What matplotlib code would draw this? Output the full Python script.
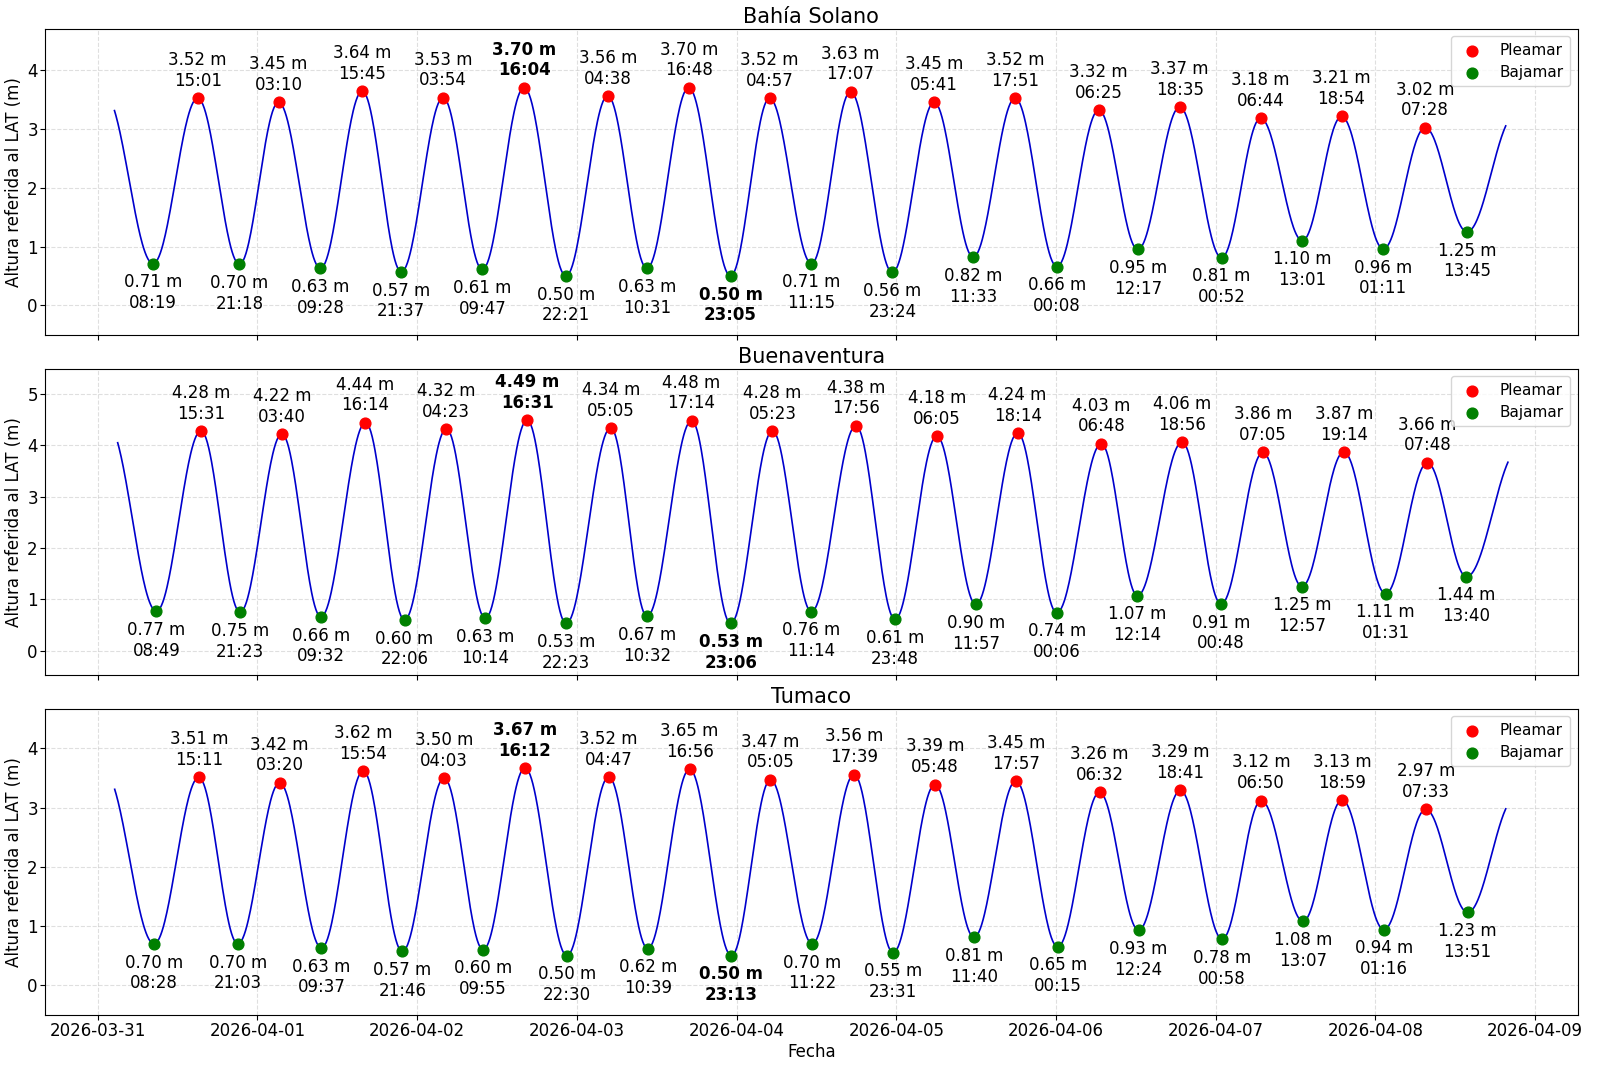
import numpy as np
import pandas as pd
import matplotlib
matplotlib.use("Agg")
import matplotlib.pyplot as plt
import matplotlib.dates as mdates

# Estaciones
estaciones = ["Bahía Solano", "Buenaventura", "Tumaco"]

# Pleamares y bajamares (fecha-hora, altura)
bs_plea_t = ["2026-03-31 15:01", "2026-04-01 03:10", "2026-04-01 15:45", "2026-04-02 03:54",
             "2026-04-02 16:04", "2026-04-03 04:38", "2026-04-03 16:48", "2026-04-04 04:57",
             "2026-04-04 17:07", "2026-04-05 05:41", "2026-04-05 17:51", "2026-04-06 06:25",
             "2026-04-06 18:35", "2026-04-07 06:44", "2026-04-07 18:54", "2026-04-08 07:28"]
bs_plea_h = [3.52, 3.45, 3.64, 3.53, 3.70, 3.56, 3.70, 3.52, 3.63, 3.45, 3.52, 3.32, 3.37, 3.18, 3.21, 3.02]
bs_baja_t = ["2026-03-31 08:19", "2026-03-31 21:18", "2026-04-01 09:28", "2026-04-01 21:37",
             "2026-04-02 09:47", "2026-04-02 22:21", "2026-04-03 10:31", "2026-04-03 23:05",
             "2026-04-04 11:15", "2026-04-04 23:24", "2026-04-05 11:33", "2026-04-06 00:08",
             "2026-04-06 12:17", "2026-04-07 00:52", "2026-04-07 13:01", "2026-04-08 01:11",
             "2026-04-08 13:45"]
bs_baja_h = [0.71, 0.70, 0.63, 0.57, 0.61, 0.50, 0.63, 0.50, 0.71, 0.56, 0.82, 0.66, 0.95, 0.81, 1.10, 0.96, 1.25]

bu_plea_t = ["2026-03-31 15:31", "2026-04-01 03:40", "2026-04-01 16:14", "2026-04-02 04:23",
             "2026-04-02 16:31", "2026-04-03 05:05", "2026-04-03 17:14", "2026-04-04 05:23",
             "2026-04-04 17:56", "2026-04-05 06:05", "2026-04-05 18:14", "2026-04-06 06:48",
             "2026-04-06 18:56", "2026-04-07 07:05", "2026-04-07 19:14", "2026-04-08 07:48"]
bu_plea_h = [4.28, 4.22, 4.44, 4.32, 4.49, 4.34, 4.48, 4.28, 4.38, 4.18, 4.24, 4.03, 4.06, 3.86, 3.87, 3.66]
bu_baja_t = ["2026-03-31 08:49", "2026-03-31 21:23", "2026-04-01 09:32", "2026-04-01 22:06",
             "2026-04-02 10:14", "2026-04-02 22:23", "2026-04-03 10:32", "2026-04-03 23:06",
             "2026-04-04 11:14", "2026-04-04 23:48", "2026-04-05 11:57", "2026-04-06 00:06",
             "2026-04-06 12:14", "2026-04-07 00:48", "2026-04-07 12:57", "2026-04-08 01:31",
             "2026-04-08 13:40"]
bu_baja_h = [0.77, 0.75, 0.66, 0.60, 0.63, 0.53, 0.67, 0.53, 0.76, 0.61, 0.90, 0.74, 1.07, 0.91, 1.25, 1.11, 1.44]

tu_plea_t = ["2026-03-31 15:11", "2026-04-01 03:20", "2026-04-01 15:54", "2026-04-02 04:03",
             "2026-04-02 16:12", "2026-04-03 04:47", "2026-04-03 16:56", "2026-04-04 05:05",
             "2026-04-04 17:39", "2026-04-05 05:48", "2026-04-05 17:57", "2026-04-06 06:32",
             "2026-04-06 18:41", "2026-04-07 06:50", "2026-04-07 18:59", "2026-04-08 07:33"]
tu_plea_h = [3.51, 3.42, 3.62, 3.50, 3.67, 3.52, 3.65, 3.47, 3.56, 3.39, 3.45, 3.26, 3.29, 3.12, 3.13, 2.97]
tu_baja_t = ["2026-03-31 08:28", "2026-03-31 21:03", "2026-04-01 09:37", "2026-04-01 21:46",
             "2026-04-02 09:55", "2026-04-02 22:30", "2026-04-03 10:39", "2026-04-03 23:13",
             "2026-04-04 11:22", "2026-04-04 23:31", "2026-04-05 11:40", "2026-04-06 00:15",
             "2026-04-06 12:24", "2026-04-07 00:58", "2026-04-07 13:07", "2026-04-08 01:16",
             "2026-04-08 13:51"]
tu_baja_h = [0.70, 0.70, 0.63, 0.57, 0.60, 0.50, 0.62, 0.50, 0.70, 0.55, 0.81, 0.65, 0.93, 0.78, 1.08, 0.94, 1.23]

# Inicio y fin de la curva (hora, altura leida)
inicio_t = ["2026-03-31 02:31", "2026-03-31 03:00", "2026-03-31 02:33"]
inicio_h = [3.31, 4.05, 3.31]
fin_t = ["2026-04-08 19:34", "2026-04-08 19:54", "2026-04-08 19:34"]
fin_h = [3.05, 3.67, 2.98]

# Indices resaltados en negrita (max pleamar, min bajamar)
plea_negrita = [4, 4, 4]
baja_negrita = [7, 7, 7]

datos = [(bs_plea_t, bs_plea_h, bs_baja_t, bs_baja_h),
         (bu_plea_t, bu_plea_h, bu_baja_t, bu_baja_h),
         (tu_plea_t, tu_plea_h, tu_baja_t, tu_baja_h)]


def forma(s):
    return (1 - np.cos(np.pi * s)) / 2


def curva_marea(t_ext, h_ext, t, t_a, h_a, t_b, h_b):
    # interpolacion coseno entre extremos consecutivos
    idx = np.clip(np.searchsorted(t_ext, t) - 1, 0, len(t_ext) - 2)
    t0, t1 = t_ext[idx], t_ext[idx + 1]
    h0, h1 = h_ext[idx], h_ext[idx + 1]
    h = (h0 + h1) / 2 + (h0 - h1) / 2 * np.cos(np.pi * (t - t0) / (t1 - t0))
    # tramos de los bordes: pasan por los valores de inicio y fin
    d_a = (t_ext[0] - t_a) / 0.8
    m = t < t_ext[0]
    h[m] = h_ext[0] + (h_a - h_ext[0]) * forma((t_ext[0] - t[m]) / d_a) / forma(0.8)
    d_b = (t_b - t_ext[-1]) / 0.8
    m = t > t_ext[-1]
    h[m] = h_ext[-1] + (h_b - h_ext[-1]) * forma((t[m] - t_ext[-1]) / d_b) / forma(0.8)
    return h


fig, axes = plt.subplots(3, 1, figsize=(16, 10.66), sharex=True)
fig.subplots_adjust(left=0.028, right=0.986, top=0.973, bottom=0.048, hspace=0.111)

for i, ax in enumerate(axes):
    pt, ph, bt, bh = datos[i]
    pt_d = pd.to_datetime(pt)
    bt_d = pd.to_datetime(bt)

    ext_t = np.concatenate([mdates.date2num(pt_d), mdates.date2num(bt_d)])
    ext_h = np.concatenate([ph, bh])
    orden = np.argsort(ext_t)
    ext_t, ext_h = ext_t[orden], ext_h[orden]

    t_a = mdates.date2num(pd.Timestamp(inicio_t[i]))
    t_b = mdates.date2num(pd.Timestamp(fin_t[i]))
    t = np.linspace(t_a, t_b, 2000)
    h = curva_marea(ext_t, ext_h, t, t_a, inicio_h[i], t_b, fin_h[i])

    ax.plot(mdates.num2date(t), h, color="#0000cc", lw=1.2)
    ax.scatter(pt_d, ph, color="red", s=60, zorder=3, label="Pleamar")
    ax.scatter(bt_d, bh, color="green", s=60, zorder=3, label="Bajamar")

    for j, (tt, hh) in enumerate(zip(pt_d, ph)):
        peso = "bold" if j == plea_negrita[i] else "normal"
        ax.annotate(f"{hh:.2f} m\n{tt:%H:%M}", (tt, hh), xytext=(0, 6),
                    textcoords="offset points", ha="center", va="bottom",
                    fontsize=12, fontweight=peso)
    for j, (tt, hh) in enumerate(zip(bt_d, bh)):
        peso = "bold" if j == baja_negrita[i] else "normal"
        ax.annotate(f"{hh:.2f} m\n{tt:%H:%M}", (tt, hh), xytext=(0, -7),
                    textcoords="offset points", ha="center", va="top",
                    fontsize=12, fontweight=peso)

    ax.set_ylim(min(bh) - 1, max(ph) + 1)
    ax.set_title(estaciones[i], fontsize=15, pad=4)
    ax.set_ylabel("Altura referida al LAT (m)", fontsize=12, labelpad=3)
    ax.grid(True, linestyle="--", alpha=0.4)
    ax.tick_params(labelsize=12, pad=1.5)
    ax.legend(loc="upper right", fontsize=11)

axes[-1].xaxis.set_major_locator(mdates.DayLocator())
axes[-1].xaxis.set_major_formatter(mdates.DateFormatter("%Y-%m-%d"))
axes[-1].set_xlabel("Fecha", fontsize=12, labelpad=2)

plt.savefig("out.png", dpi=100)
